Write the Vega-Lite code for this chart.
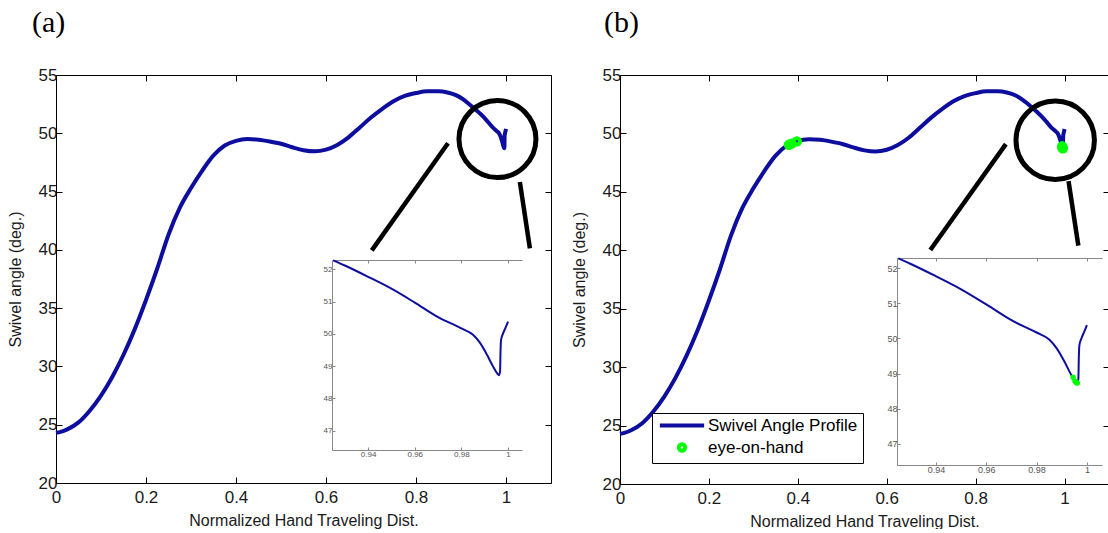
{
  "$schema": "https://vega.github.io/schema/vega-lite/v6.json",
  "padding": {"left": 7, "top": 8, "right": 0, "bottom": 0},
  "spacing": 19,
  "datasets": {
    "profile": [
      {"x": 0, "y": 24.3}, {"x": 0.01, "y": 24.38}, {"x": 0.025, "y": 24.6}, {"x": 0.05, "y": 25.2},
      {"x": 0.075, "y": 26.2}, {"x": 0.1, "y": 27.5}, {"x": 0.125, "y": 29.1}, {"x": 0.15, "y": 31.0},
      {"x": 0.175, "y": 33.2}, {"x": 0.2, "y": 35.7}, {"x": 0.225, "y": 38.4}, {"x": 0.25, "y": 41.3},
      {"x": 0.275, "y": 43.6}, {"x": 0.3, "y": 45.3}, {"x": 0.325, "y": 46.8}, {"x": 0.35, "y": 48.1},
      {"x": 0.375, "y": 48.95}, {"x": 0.4, "y": 49.35}, {"x": 0.425, "y": 49.5}, {"x": 0.45, "y": 49.45},
      {"x": 0.475, "y": 49.3}, {"x": 0.5, "y": 49.1}, {"x": 0.525, "y": 48.8}, {"x": 0.55, "y": 48.55},
      {"x": 0.575, "y": 48.45}, {"x": 0.6, "y": 48.6}, {"x": 0.625, "y": 49.0}, {"x": 0.65, "y": 49.65},
      {"x": 0.675, "y": 50.5}, {"x": 0.7, "y": 51.35}, {"x": 0.725, "y": 52.1}, {"x": 0.75, "y": 52.75},
      {"x": 0.775, "y": 53.2}, {"x": 0.8, "y": 53.45}, {"x": 0.825, "y": 53.6}, {"x": 0.85, "y": 53.6},
      {"x": 0.87, "y": 53.5}, {"x": 0.89, "y": 53.25}, {"x": 0.905, "y": 52.9}, {"x": 0.915, "y": 52.6},
      {"x": 0.925, "y": 52.28}, {"x": 0.93, "y": 52.12}, {"x": 0.94, "y": 51.77}, {"x": 0.95, "y": 51.4},
      {"x": 0.96, "y": 50.97}, {"x": 0.97, "y": 50.52}, {"x": 0.98, "y": 50.17}, {"x": 0.985, "y": 49.97},
      {"x": 0.988, "y": 49.72}, {"x": 0.991, "y": 49.35}, {"x": 0.9935, "y": 49.0}, {"x": 0.9953, "y": 48.78},
      {"x": 0.9962, "y": 48.72}, {"x": 0.9966, "y": 48.85}, {"x": 0.9968, "y": 49.5}, {"x": 0.997, "y": 49.8},
      {"x": 0.9978, "y": 50.0}, {"x": 0.999, "y": 50.2}, {"x": 1.0, "y": 50.38}
    ],
    "eye": [
      {"x": 0.38, "y": 49.03, "series": "eye-on-hand"},
      {"x": 0.386, "y": 49.12, "series": "eye-on-hand"},
      {"x": 0.398, "y": 49.32, "series": "eye-on-hand"},
      {"x": 0.9945, "y": 48.9, "series": "eye-on-hand"},
      {"x": 0.9953, "y": 48.78, "series": "eye-on-hand"},
      {"x": 0.9958, "y": 48.74, "series": "eye-on-hand"},
      {"x": 0.9962, "y": 48.73, "series": "eye-on-hand"}
    ],
    "circle_a": [{"x": 0.981, "y": 49.5}],
    "circle_b": [{"x": 0.979, "y": 49.41}],
    "links_a": [
      {"x1": 0.7017, "y1": 39.96, "x2": 0.8711, "y2": 49.15},
      {"x1": 1.0308, "y1": 45.82, "x2": 1.0531, "y2": 40.13}
    ],
    "links_b": [
      {"x1": 0.698, "y1": 40.03, "x2": 0.868, "y2": 49.08},
      {"x1": 1.009, "y1": 45.92, "x2": 1.031, "y2": 40.4}
    ]
  },
  "config": {
    "view": {"stroke": null},
    "axis": {
      "grid": false,
      "labelFont": "Liberation Sans",
      "titleFont": "Liberation Sans",
      "labelFontSize": 17,
      "titleFontSize": 16,
      "titleFontWeight": "normal",
      "labelColor": "#1a1a1a",
      "titleColor": "#1a1a1a",
      "domainColor": "black",
      "tickColor": "black",
      "tickSize": -6,
      "labelFlush": false,
      "labelOverlap": false,
      "labelPadding": 5
    },
    "legend": {"labelFont": "Liberation Sans"}
  },
  "hconcat": [
    {
      "width": 495,
      "height": 408,
      "title": {"text": "(a)", "anchor": "start", "frame": "group", "font": "Liberation Serif", "fontSize": 30, "fontWeight": "normal", "color": "black", "dx": -24, "offset": 28},
      "layer": [
        {
          "data": {"name": "profile"},
          "mark": {"type": "line", "color": "#0D0D9E", "strokeWidth": 4, "interpolate": "monotone"},
          "encoding": {
            "x": {"field": "x", "type": "quantitative", "scale": {"domain": [0, 1.1], "nice": false, "zero": false},
                  "axis": {"orient": "bottom", "values": [0, 0.2, 0.4, 0.6, 0.8, 1], "format": "~g", "title": "Normalized Hand Traveling Dist.", "labelPadding": 12, "titlePadding": 7}},
            "y": {"field": "y", "type": "quantitative", "scale": {"domain": [20, 55], "nice": false, "zero": false},
                  "axis": {"orient": "left", "values": [20, 25, 30, 35, 40, 45, 50, 55], "title": "Swivel angle (deg.)", "titlePadding": 15}}
          }
        },
        {
          "data": {"name": "circle_a"},
          "mark": {"type": "point", "shape": "circle", "filled": false, "size": 5929, "stroke": "black", "strokeWidth": 5, "opacity": 1},
          "encoding": {
            "x": {"field": "x", "type": "quantitative", "scale": {"domain": [0, 1.1], "nice": false, "zero": false},
                  "axis": {"orient": "top", "values": [0, 0.2, 0.4, 0.6, 0.8, 1], "labels": false, "title": null}},
            "y": {"field": "y", "type": "quantitative", "scale": {"domain": [20, 55], "nice": false, "zero": false},
                  "axis": {"orient": "right", "values": [20, 25, 30, 35, 40, 45, 50, 55], "labels": false, "title": null}}
          }
        },
        {
          "data": {"name": "links_a"},
          "mark": {"type": "rule", "color": "black", "strokeWidth": 4.5},
          "encoding": {
            "x": {"field": "x1", "type": "quantitative", "scale": {"domain": [0, 1.1], "nice": false, "zero": false}, "axis": null},
            "y": {"field": "y1", "type": "quantitative", "scale": {"domain": [20, 55], "nice": false, "zero": false}, "axis": null},
            "x2": {"field": "x2"},
            "y2": {"field": "y2"}
          }
        },
        {
          "data": {"name": "profile"},
          "transform": [{"filter": "datum.x >= 0.924"}],
          "mark": {"type": "line", "color": "#0D0D9E", "strokeWidth": 2, "interpolate": "monotone"},
          "encoding": {
            "x": {"field": "x", "type": "quantitative", "scale": {"domain": [0.9245, 1.006], "range": [276, 466], "nice": false, "zero": false},
                  "axis": {"orient": "bottom", "offset": -33, "values": [0.94, 0.96, 0.98, 1], "format": "~g", "title": null, "labelFontSize": 8, "labelColor": "#555", "domainColor": "#888", "tickColor": "#888", "tickSize": -3, "labelPadding": 3}},
            "y": {"field": "y", "type": "quantitative", "scale": {"domain": [46.4, 52.29], "range": [375, 185], "nice": false, "zero": false},
                  "axis": {"orient": "left", "offset": -276, "values": [47, 48, 49, 50, 51, 52], "title": null, "labelFontSize": 8, "labelColor": "#555", "domainColor": "#888", "tickColor": "#888", "tickSize": -3, "labelPadding": 3}}
          }
        },
        {
          "data": {"name": "profile"},
          "transform": [{"filter": "datum.x >= 0.924"}],
          "mark": {"type": "line", "opacity": 0},
          "encoding": {
            "x": {"field": "x", "type": "quantitative", "scale": {"domain": [0.9245, 1.006], "range": [276, 466], "nice": false, "zero": false},
                  "axis": {"orient": "top", "offset": -185, "values": [0.94, 0.96, 0.98, 1], "labels": false, "title": null, "domainColor": "#888", "tickColor": "#888", "tickSize": -3}},
            "y": {"field": "y", "type": "quantitative", "scale": {"domain": [46.4, 52.29], "range": [375, 185], "nice": false, "zero": false}, "axis": null}
          }
        }
      ],
      "resolve": {"scale": {"x": "independent", "y": "independent"}}
    },
    {
      "width": 489,
      "height": 409,
      "title": {"text": "(b)", "anchor": "start", "frame": "group", "font": "Liberation Serif", "fontSize": 30, "fontWeight": "normal", "color": "black", "dx": -16, "offset": 28},
      "layer": [
        {
          "data": {"name": "profile"},
          "mark": {"type": "line", "color": "#0D0D9E", "strokeWidth": 4, "interpolate": "monotone"},
          "encoding": {
            "x": {"field": "x", "type": "quantitative", "scale": {"domain": [0, 1.1], "nice": false, "zero": false},
                  "axis": {"orient": "bottom", "values": [0, 0.2, 0.4, 0.6, 0.8, 1], "format": "~g", "title": "Normalized Hand Traveling Dist.", "labelPadding": 12, "titlePadding": 7}},
            "y": {"field": "y", "type": "quantitative", "scale": {"domain": [20, 55], "nice": false, "zero": false},
                  "axis": {"orient": "left", "values": [20, 25, 30, 35, 40, 45, 50, 55], "title": "Swivel angle (deg.)", "titlePadding": 15}}
          }
        },
        {
          "data": {"name": "circle_b"},
          "mark": {"type": "point", "shape": "circle", "filled": false, "size": 6150, "stroke": "black", "strokeWidth": 5, "opacity": 1},
          "encoding": {
            "x": {"field": "x", "type": "quantitative", "scale": {"domain": [0, 1.1], "nice": false, "zero": false},
                  "axis": {"orient": "top", "values": [0, 0.2, 0.4, 0.6, 0.8, 1], "labels": false, "title": null}},
            "y": {"field": "y", "type": "quantitative", "scale": {"domain": [20, 55], "nice": false, "zero": false},
                  "axis": {"orient": "right", "values": [20, 25, 30, 35, 40, 45, 50, 55], "labels": false, "title": null}}
          }
        },
        {
          "data": {"name": "links_b"},
          "mark": {"type": "rule", "color": "black", "strokeWidth": 4.5},
          "encoding": {
            "x": {"field": "x1", "type": "quantitative", "scale": {"domain": [0, 1.1], "nice": false, "zero": false}, "axis": null},
            "y": {"field": "y1", "type": "quantitative", "scale": {"domain": [20, 55], "nice": false, "zero": false}, "axis": null},
            "x2": {"field": "x2"},
            "y2": {"field": "y2"}
          }
        },
        {
          "data": {"name": "eye"},
          "mark": {"type": "point", "filled": false, "size": 40, "strokeWidth": 4, "opacity": 1},
          "encoding": {
            "x": {"field": "x", "type": "quantitative", "scale": {"domain": [0, 1.1], "nice": false, "zero": false}, "axis": null},
            "y": {"field": "y", "type": "quantitative", "scale": {"domain": [20, 55], "nice": false, "zero": false}, "axis": null},
            "color": {"field": "series", "type": "nominal",
                      "scale": {"domain": ["Swivel Angle Profile", "eye-on-hand"], "range": ["#0D0D9E", "#00FF00"]},
                      "legend": {"title": null, "orient": "none", "legendX": 596, "legendY": 338, "strokeColor": "black", "fillColor": "white", "padding": 4, "labelFontSize": 17, "labelColor": "black", "symbolSize": 40, "symbolStrokeWidth": 4, "symbolOffset": 17.5, "labelOffset": 17.5, "rowPadding": 2}},
            "shape": {"field": "series", "type": "nominal",
                      "scale": {"domain": ["Swivel Angle Profile", "eye-on-hand"], "range": ["M-7,0H7", "circle"]}}
          }
        },
        {
          "data": {"name": "profile"},
          "transform": [{"filter": "datum.x >= 0.924"}],
          "mark": {"type": "line", "color": "#0D0D9E", "strokeWidth": 2, "interpolate": "monotone"},
          "encoding": {
            "x": {"field": "x", "type": "quantitative", "scale": {"domain": [0.9245, 1.006], "range": [277, 482], "nice": false, "zero": false},
                  "axis": {"orient": "bottom", "offset": -19, "values": [0.94, 0.96, 0.98, 1], "format": "~g", "title": null, "labelFontSize": 9, "labelColor": "#555", "domainColor": "#888", "tickColor": "#888", "tickSize": -3, "labelPadding": 3}},
            "y": {"field": "y", "type": "quantitative", "scale": {"domain": [46.4, 52.29], "range": [390, 183], "nice": false, "zero": false},
                  "axis": {"orient": "left", "offset": -277, "values": [47, 48, 49, 50, 51, 52], "title": null, "labelFontSize": 9, "labelColor": "#555", "domainColor": "#888", "tickColor": "#888", "tickSize": -3, "labelPadding": 3}}
          }
        },
        {
          "data": {"name": "eye"},
          "transform": [{"filter": "datum.x >= 0.924"}],
          "mark": {"type": "point", "filled": true, "size": 30, "color": "#00FF00", "opacity": 1},
          "encoding": {
            "x": {"field": "x", "type": "quantitative", "scale": {"domain": [0.9245, 1.006], "range": [277, 482], "nice": false, "zero": false},
                  "axis": {"orient": "top", "offset": -183, "values": [0.94, 0.96, 0.98, 1], "labels": false, "title": null, "domainColor": "#888", "tickColor": "#888", "tickSize": -3}},
            "y": {"field": "y", "type": "quantitative", "scale": {"domain": [46.4, 52.29], "range": [390, 183], "nice": false, "zero": false}, "axis": null}
          }
        }
      ],
      "resolve": {"scale": {"x": "independent", "y": "independent"}}
    }
  ]
}
